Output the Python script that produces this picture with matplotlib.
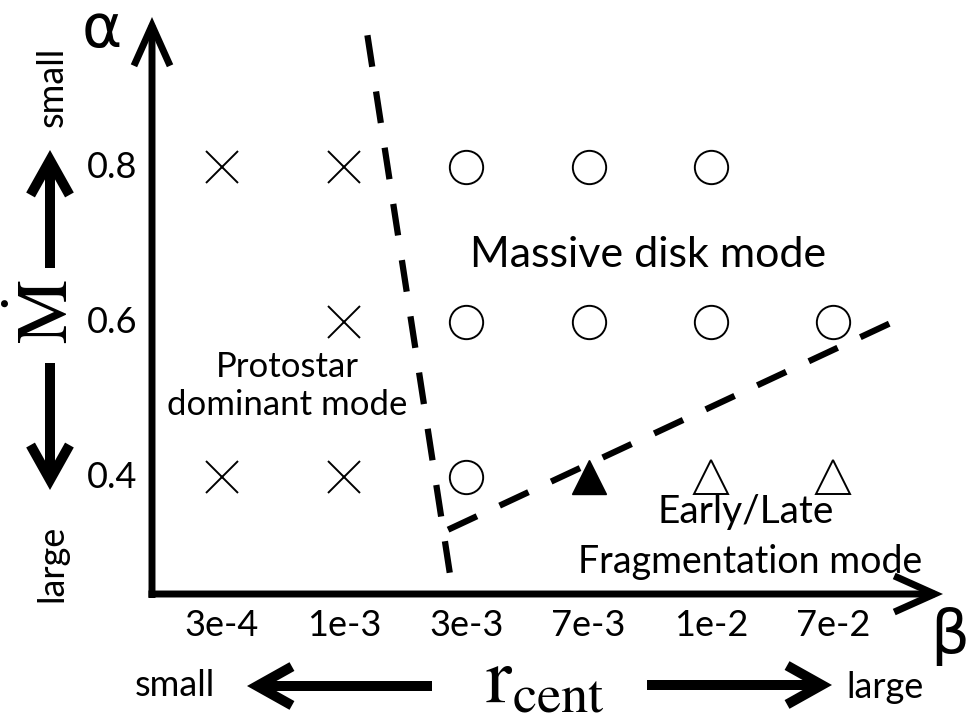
"""Schematic map of disk evolution modes in the (beta, alpha) plane."""
import matplotlib

matplotlib.use("Agg")
import matplotlib.pyplot as plt  # noqa: E402
from matplotlib import transforms  # noqa: E402
from matplotlib.patches import ArrowStyle, FancyArrowPatch  # noqa: E402

plt.rcParams["font.family"] = ["Lato", "DejaVu Sans"]
plt.rcParams["mathtext.fontset"] = "stix"

W, H = 972, 728

# categories
beta_labels = ["3e-4", "1e-3", "3e-3", "7e-3", "1e-2", "7e-2"]
alpha_values = [0.8, 0.6, 0.4]

# runs, as (beta index, alpha)
cross_beta = [0, 1, 1, 0, 1]
cross_alpha = [0.8, 0.8, 0.6, 0.4, 0.4]
disk_beta = [2, 3, 4, 2, 3, 4, 5, 2]
disk_alpha = [0.8, 0.8, 0.8, 0.6, 0.6, 0.6, 0.6, 0.4]
frag_beta = [3]
frag_alpha = [0.4]
late_frag_beta = [4, 5]
late_frag_alpha = [0.4, 0.4]

# mode boundaries (beta index, alpha)
bound1_beta = [1.19, 1.87]
bound1_alpha = [0.97, 0.27]
bound2_beta = [1.85, 5.49]
bound2_alpha = [0.332, 0.60]

# layout: where index 0 / alpha 0.8 land in pixels
X0, DX = 222, 122.2
Y0, DY = 167, 775

fig = plt.figure(figsize=(W / 100, H / 100), dpi=100)
ax = fig.add_axes([0, 0, 1, 1])
ax.set_xlim(-X0 / DX, (W - X0) / DX)
ax.set_ylim(0.8 - (H - Y0) / DY, 0.8 + Y0 / DY)
ax.axis("off")

# pixel transform, origin at top-left
pix = transforms.Affine2D().scale(1 / W, -1 / H).translate(0, 1) + fig.transFigure


def arrow(x0, y0, x1, y1, lw, hl, hw):
    style = ArrowStyle("->", head_length=hl, head_width=hw)
    a = FancyArrowPatch((x0, y0), (x1, y1), transform=pix, arrowstyle=style,
                        mutation_scale=1, lw=lw, color="black",
                        shrinkA=0, shrinkB=0, joinstyle="miter", capstyle="butt")
    fig.add_artist(a)


# main axes
arrow(152, 598, 152, 17, 5, 29, 13)
arrow(148.5, 594, 943, 594, 5, 29, 13)

# side arrows
arrow(50, 268, 50, 150, 7.2, 25, 14)
arrow(50, 363, 50, 490, 7.2, 25, 14)
arrow(432, 686, 247, 686, 7.2, 25, 14)
arrow(647, 685, 832, 685, 7.2, 25, 14)

# boundaries
for bx, by in [(bound1_beta, bound1_alpha), (bound2_beta, bound2_alpha)]:
    ax.plot(bx, by, color="black", lw=4.5, linestyle=(0, (5.1, 4.0)))

# markers
ax.plot(cross_beta, cross_alpha, "x", color="black", ms=23, mew=1.4)
ax.plot(disk_beta, disk_alpha, "o", mfc="white", mec="black", ms=24, mew=1.4)
ax.plot(frag_beta, frag_alpha, "^", color="black", ms=24)
ax.plot(late_frag_beta, late_frag_alpha, "^", mfc="white", mec="black", ms=24, mew=1.4)

# tick labels
xt = transforms.blended_transform_factory(ax.transData, pix)
for i, lab in enumerate(beta_labels):
    ax.text(i, 626, lab, transform=xt, ha="center", va="center", fontsize=26)
yt = transforms.blended_transform_factory(pix, ax.transData)
for a in alpha_values:
    ax.text(137, a, f"{a:.1f}", transform=yt, ha="right", va="center", fontsize=26)

# axis names
ax.text(102, 30, "α", transform=pix, ha="center", va="center", fontsize=44,
        family="DejaVu Sans")
ax.text(950, 637, "β", transform=pix, ha="center", va="center", fontsize=44,
        family="DejaVu Sans")
ax.text(45, 312, r"$\dot{\mathrm{M}}$", transform=pix, ha="center", va="center",
        fontsize=52, rotation=90)
ax.text(545, 702, r"$\mathrm{r}_{\mathrm{cent}}$", transform=pix, ha="center",
        va="baseline", fontsize=56)

ax.text(52, 87, "small", transform=pix, ha="center", va="center", fontsize=26, rotation=90)
ax.text(52, 563, "large", transform=pix, ha="center", va="center", fontsize=26, rotation=90)
ax.text(175, 686, "small", transform=pix, ha="center", va="center", fontsize=26)
ax.text(885, 688, "large", transform=pix, ha="center", va="center", fontsize=26)

# mode labels
ax.text(648, 255, "Massive disk mode", transform=pix, ha="center", va="center", fontsize=31)
ax.text(287, 367, "Protostar", transform=pix, ha="center", va="center", fontsize=25)
ax.text(287, 405, "dominant mode", transform=pix, ha="center", va="center", fontsize=25)
ax.text(746, 512, "Early/Late", transform=pix, ha="center", va="center", fontsize=28)
ax.text(750, 562, "Fragmentation mode", transform=pix, ha="center", va="center", fontsize=27)

fig.savefig("out.png", dpi=100)
plt.close(fig)
